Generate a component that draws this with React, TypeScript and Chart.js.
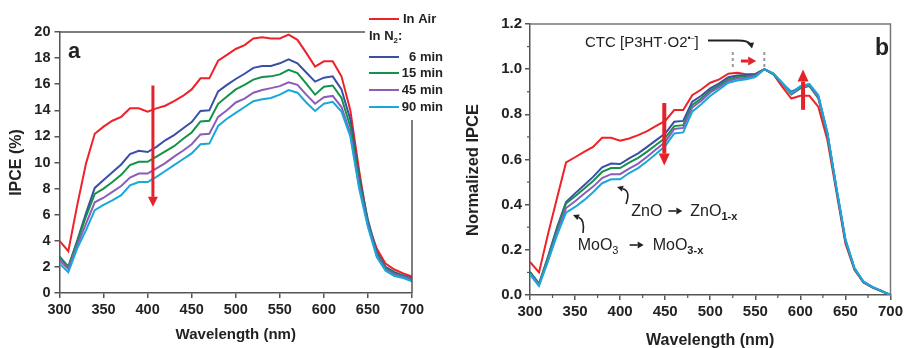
import { useEffect, useRef } from "react";
import { Chart, registerables } from "chart.js";
Chart.register(...registerables);

// ---------- data ----------
const wavelengths = [300, 310, 320, 330, 340, 350, 360, 370, 380, 390, 400, 410, 420, 430, 440, 450, 460, 470, 480, 490, 500, 510, 520, 530, 540, 550, 560, 570, 580, 590, 600, 610, 620, 630, 640, 650, 660, 670, 680, 690, 700];

const ipceAir = [4.0, 3.2, 6.7, 9.9, 12.2, 12.75, 13.2, 13.5, 14.15, 14.15, 13.9, 14.15, 14.35, 14.7, 15.1, 15.6, 16.45, 16.45, 17.8, 18.25, 18.7, 19.0, 19.5, 19.6, 19.5, 19.5, 19.8, 19.4, 18.4, 17.35, 17.75, 17.75, 16.6, 14.0, 9.4, 5.3, 3.4, 2.25, 1.8, 1.5, 1.25];
const ipce6 = [2.8, 2.0, 4.0, 6.1, 8.05, 8.65, 9.25, 9.85, 10.65, 10.9, 10.8, 11.2, 11.7, 12.1, 12.6, 13.1, 13.95, 14.0, 15.45, 15.95, 16.4, 16.8, 17.25, 17.4, 17.4, 17.6, 17.9, 17.6, 16.9, 16.2, 16.5, 16.6, 15.6, 13.3, 8.9, 5.6, 3.15, 2.0, 1.6, 1.35, 1.1];
const ipce15 = [2.75, 2.0, 3.9, 5.85, 7.6, 8.0, 8.5, 9.05, 9.8, 10.05, 10.05, 10.45, 10.85, 11.25, 11.8, 12.3, 13.15, 13.2, 14.5, 15.05, 15.6, 15.95, 16.35, 16.55, 16.6, 16.75, 17.1, 16.85, 16.05, 15.2, 15.8, 15.9, 14.95, 12.75, 8.65, 5.4, 3.0, 1.9, 1.5, 1.3, 1.05];
const ipce45 = [2.5, 1.85, 3.65, 5.3, 6.95, 7.3, 7.75, 8.2, 8.85, 9.15, 9.15, 9.55, 9.95, 10.45, 10.9, 11.4, 12.15, 12.2, 13.5, 14.0, 14.6, 14.9, 15.35, 15.55, 15.7, 15.85, 16.15, 15.95, 15.2, 14.5, 15.0, 15.1, 14.25, 12.25, 8.25, 5.2, 2.9, 1.8, 1.4, 1.25, 1.0];
const ipce90 = [2.25, 1.6, 3.4, 4.8, 6.35, 6.75, 7.1, 7.5, 8.25, 8.5, 8.5, 8.9, 9.35, 9.8, 10.25, 10.7, 11.4, 11.45, 12.8, 13.35, 13.8, 14.25, 14.7, 14.85, 14.95, 15.2, 15.55, 15.35, 14.6, 13.95, 14.5, 14.65, 13.9, 12.0, 8.0, 5.05, 2.75, 1.7, 1.3, 1.15, 0.9];

const normAir = [0.146, 0.10, 0.27, 0.43, 0.587, 0.61, 0.634, 0.656, 0.696, 0.696, 0.683, 0.693, 0.708, 0.726, 0.749, 0.771, 0.819, 0.819, 0.885, 0.91, 0.94, 0.955, 0.98, 0.984, 0.978, 0.978, 1.0, 0.978, 0.922, 0.87, 0.882, 0.882, 0.833, 0.686, 0.457, 0.228, 0.112, 0.055, 0.033, 0.016, 0.0];
const norm6 = [0.102, 0.05, 0.17, 0.30, 0.412, 0.45, 0.486, 0.523, 0.565, 0.582, 0.58, 0.605, 0.627, 0.656, 0.686, 0.715, 0.767, 0.771, 0.856, 0.882, 0.915, 0.937, 0.964, 0.972, 0.974, 0.978, 1.0, 0.978, 0.937, 0.9, 0.919, 0.93, 0.878, 0.715, 0.471, 0.242, 0.117, 0.058, 0.035, 0.018, 0.0];
const norm15 = [0.10, 0.05, 0.165, 0.29, 0.405, 0.437, 0.47, 0.505, 0.545, 0.562, 0.562, 0.586, 0.607, 0.635, 0.665, 0.695, 0.748, 0.752, 0.842, 0.87, 0.905, 0.928, 0.955, 0.965, 0.968, 0.973, 1.0, 0.978, 0.935, 0.888, 0.915, 0.925, 0.87, 0.71, 0.468, 0.24, 0.115, 0.057, 0.034, 0.017, 0.0];
const norm45 = [0.095, 0.045, 0.155, 0.275, 0.385, 0.415, 0.448, 0.48, 0.518, 0.535, 0.535, 0.56, 0.582, 0.612, 0.645, 0.677, 0.735, 0.74, 0.83, 0.86, 0.897, 0.92, 0.948, 0.958, 0.962, 0.97, 1.0, 0.98, 0.937, 0.89, 0.92, 0.93, 0.875, 0.715, 0.472, 0.243, 0.117, 0.058, 0.035, 0.018, 0.0];
const norm90 = [0.09, 0.04, 0.15, 0.265, 0.365, 0.39, 0.42, 0.455, 0.495, 0.512, 0.512, 0.54, 0.562, 0.592, 0.625, 0.66, 0.715, 0.72, 0.812, 0.845, 0.882, 0.91, 0.94, 0.95, 0.955, 0.965, 1.0, 0.982, 0.94, 0.895, 0.925, 0.935, 0.885, 0.72, 0.478, 0.248, 0.12, 0.06, 0.036, 0.018, 0.0];

const seriesLabels = ["In Air", "6 min", "15 min", "45 min", "90 min"];
const seriesColors = ["#ee2229", "#3a4fa6", "#14924a", "#8c5db8", "#18a8dc"];
const ipceSeries = [ipceAir, ipce6, ipce15, ipce45, ipce90];
const normSeries = [normAir, norm6, norm15, norm45, norm90];

const xTitle = "Wavelength (nm)";
const yTitleA = "IPCE (%)";
const yTitleB = "Normalized IPCE";

// ---------- helpers ----------
const SANS = "'Liberation Sans', Arial, sans-serif";
const NOTE = "'Liberation Sans Narrow', 'Liberation Sans', Arial, sans-serif";
const RED = "#e3222a";

function arrow(ctx: any, x1: number, y1: number, x2: number, y2: number, color: string, w: number, hl: number, hw: number) {
  const a = Math.atan2(y2 - y1, x2 - x1);
  const bx = x2 - Math.cos(a) * hl, by = y2 - Math.sin(a) * hl;
  ctx.save();
  ctx.strokeStyle = color; ctx.fillStyle = color; ctx.lineWidth = w; ctx.lineCap = "butt";
  ctx.beginPath(); ctx.moveTo(x1, y1); ctx.lineTo(bx, by); ctx.stroke();
  ctx.beginPath(); ctx.moveTo(x2, y2);
  ctx.lineTo(bx + Math.sin(a) * hw / 2, by - Math.cos(a) * hw / 2);
  ctx.lineTo(bx - Math.sin(a) * hw / 2, by + Math.cos(a) * hw / 2);
  ctx.closePath(); ctx.fill();
  ctx.restore();
}

function curvedArrow(ctx: any, x0: number, y0: number, cx: number, cy: number, x1: number, y1: number, color: string) {
  const a = Math.atan2(y1 - cy, x1 - cx);
  const hl = 6, hw = 6;
  const bx = x1 - Math.cos(a) * hl, by = y1 - Math.sin(a) * hl;
  ctx.save();
  ctx.strokeStyle = color; ctx.fillStyle = color; ctx.lineWidth = 1.6;
  ctx.beginPath(); ctx.moveTo(x0, y0); ctx.quadraticCurveTo(cx, cy, bx, by); ctx.stroke();
  ctx.beginPath(); ctx.moveTo(x1, y1);
  ctx.lineTo(bx + Math.sin(a) * hw / 2, by - Math.cos(a) * hw / 2);
  ctx.lineTo(bx - Math.sin(a) * hw / 2, by + Math.cos(a) * hw / 2);
  ctx.closePath(); ctx.fill();
  ctx.restore();
}

type Run = { t: string; size: number; dy?: number; weight?: string; family?: string };
function runs(ctx: any, x: number, y: number, parts: Run[], color = "#222") {
  ctx.save();
  ctx.fillStyle = color; ctx.textBaseline = "alphabetic"; ctx.textAlign = "left";
  let cx = x;
  for (const p of parts) {
    ctx.font = `${p.weight || "normal"} ${p.size}px ${p.family || NOTE}`;
    ctx.fillText(p.t, cx, y + (p.dy || 0));
    cx += ctx.measureText(p.t).width;
  }
  ctx.restore();
}

function rotatedText(ctx: any, text: string, x: number, y: number, font: string) {
  ctx.save();
  ctx.translate(x, y); ctx.rotate(-Math.PI / 2);
  ctx.font = font; ctx.fillStyle = "#222"; ctx.textAlign = "center"; ctx.textBaseline = "middle";
  ctx.fillText(text, 0, 0);
  ctx.restore();
}

function centerText(ctx: any, text: string, x: number, y: number, font: string) {
  ctx.save();
  ctx.font = font; ctx.fillStyle = "#222"; ctx.textAlign = "center"; ctx.textBaseline = "middle";
  ctx.fillText(text, x, y);
  ctx.restore();
}

// ---------- panel a decorations ----------
const decoA = {
  id: "decoA",
  afterDraw(chart: any) {
    const { ctx, chartArea: ca, scales } = chart;
    const xs = scales.x, ys = scales.y;
    ctx.save();
    // partial frame
    ctx.strokeStyle = "#555"; ctx.lineWidth = 1.5;
    ctx.beginPath(); ctx.moveTo(ca.left, ca.top); ctx.lineTo(365, ca.top); ctx.stroke();
    ctx.beginPath(); ctx.moveTo(ca.right, 120); ctx.lineTo(ca.right, ca.bottom); ctx.stroke();
    ctx.restore();
    // panel label
    runs(ctx, 68, 58, [{ t: "a", size: 22, weight: "bold", family: SANS }]);
    // legend
    const lx0 = 369, lx1 = 399, rx = 443;
    const rowsY = [19, 57, 73, 90, 107];
    for (let i = 0; i < seriesLabels.length; i++) {
      ctx.save();
      ctx.strokeStyle = seriesColors[i]; ctx.lineWidth = 2;
      ctx.beginPath(); ctx.moveTo(lx0, rowsY[i]); ctx.lineTo(lx1, rowsY[i]); ctx.stroke();
      ctx.font = `bold 13px ${SANS}`; ctx.fillStyle = "#222"; ctx.textBaseline = "middle";
      if (i === 0) { ctx.textAlign = "left"; ctx.fillText(seriesLabels[i], 403, rowsY[i]); }
      else { ctx.textAlign = "right"; ctx.fillText(seriesLabels[i], rx, rowsY[i]); }
      ctx.restore();
    }
    runs(ctx, 369, 40, [
      { t: "In N", size: 13, weight: "bold", family: SANS },
      { t: "2", size: 8, dy: 3, weight: "bold", family: SANS },
      { t: ":", size: 13, weight: "bold", family: SANS },
    ]);
    // red arrow
    const ax = xs.getPixelForValue(406);
    arrow(ctx, ax, ys.getPixelForValue(15.9), ax, ys.getPixelForValue(6.6), RED, 3, 10, 10);
    // axis titles
    rotatedText(ctx, yTitleA, 17, (ca.top + ca.bottom) / 2, `bold 16px ${SANS}`);
    centerText(ctx, xTitle, (ca.left + ca.right) / 2, 335, `bold 15px ${SANS}`);
  },
};

// ---------- panel b decorations ----------
const decoB = {
  id: "decoB",
  afterDraw(chart: any) {
    const { ctx, chartArea: ca, scales } = chart;
    const xs = scales.x, ys = scales.y;
    const X = (v: number) => xs.getPixelForValue(v);
    const Y = (v: number) => ys.getPixelForValue(v);
    ctx.save();
    ctx.strokeStyle = "#777"; ctx.lineWidth = 1.5;
    ctx.beginPath(); ctx.moveTo(ca.left, ca.top); ctx.lineTo(ca.right, ca.top); ctx.lineTo(ca.right, ca.bottom); ctx.stroke();
    // minor ticks
    ctx.strokeStyle = "#555"; ctx.lineWidth = 1.2;
    for (let v = 325; v < 700; v += 50) {
      const px = X(v);
      ctx.beginPath(); ctx.moveTo(px, ca.bottom); ctx.lineTo(px, ca.bottom + 3); ctx.stroke();
    }
    for (let k = 1; k < 12; k += 2) {
      const py = Y(k / 10);
      ctx.beginPath(); ctx.moveTo(ca.left - 3, py); ctx.lineTo(ca.left, py); ctx.stroke();
    }
    // dashed grey markers
    ctx.strokeStyle = "#999"; ctx.lineWidth = 2; ctx.setLineDash([3, 3]);
    for (const v of [525, 560]) {
      ctx.beginPath(); ctx.moveTo(X(v), Y(1.076)); ctx.lineTo(X(v), Y(1.008)); ctx.stroke();
    }
    ctx.setLineDash([]);
    ctx.restore();
    // panel label
    runs(ctx, 425, 55, [{ t: "b", size: 23, weight: "bold", family: SANS }]);
    // CTC label
    runs(ctx, 135, 47, [
      { t: "CTC [P3HT\u00B7O2", size: 15 },
      { t: "\u2022", size: 9, dy: -6 },
      { t: "\u2013", size: 7, dy: -7 },
      { t: "]", size: 15 },
    ]);
    // black curved arrow from CTC label
    ctx.save();
    ctx.strokeStyle = "#222"; ctx.lineWidth = 1.8;
    ctx.beginPath(); ctx.moveTo(258, 40.5); ctx.lineTo(288, 40.5);
    ctx.quadraticCurveTo(298, 40.5, 300, 44); ctx.stroke();
    ctx.fillStyle = "#222";
    ctx.beginPath(); ctx.moveTo(302, 48.5); ctx.lineTo(297, 43); ctx.lineTo(304, 42.5); ctx.closePath(); ctx.fill();
    ctx.restore();
    // small red right arrow
    arrow(ctx, X(534), Y(1.036), X(551), Y(1.036), RED, 3, 8, 9);
    // red arrows
    arrow(ctx, X(449), Y(0.85), X(449), Y(0.573), RED, 4, 12, 11);
    arrow(ctx, X(603), Y(0.82), X(603), Y(0.998), RED, 4, 12, 11);
    // ZnO annotation
    const zx = X(412.4), zy = 216;
    runs(ctx, zx, zy, [{ t: "ZnO", size: 16 }]);
    arrow(ctx, zx + 37, zy - 5, zx + 51, zy - 5, "#222", 1.6, 6, 7);
    runs(ctx, zx + 59, zy, [{ t: "ZnO", size: 16 }, { t: "1-x", size: 11, dy: 4, weight: "bold" }]);
    curvedArrow(ctx, 176, 204, 181, 191, 167, 187, "#222");
    // MoO3 annotation
    const mx = X(352.9), my = 250;
    runs(ctx, mx, my, [{ t: "MoO", size: 16 }, { t: "3", size: 11, dy: 4 }]);
    arrow(ctx, mx + 52, my - 5, mx + 66, my - 5, "#222", 1.6, 6, 7);
    runs(ctx, mx + 75, my, [{ t: "MoO", size: 16 }, { t: "3-x", size: 11, dy: 4, weight: "bold" }]);
    curvedArrow(ctx, 133, 233, 135, 220, 123, 215, "#222");
    // axis titles
    rotatedText(ctx, yTitleB, 23, 170, `bold 16.5px ${SANS}`);
    centerText(ctx, xTitle, (ca.left + ca.right) / 2, 341, `bold 16px ${SANS}`);
  },
};

function makeDatasets(series: number[][]) {
  return series.map((vals, i) => ({
    label: seriesLabels[i],
    data: wavelengths.map((w, j) => ({ x: w, y: vals[j] })),
    borderColor: seriesColors[i],
    backgroundColor: seriesColors[i],
    borderWidth: 2,
    pointRadius: 0,
    tension: 0,
    order: 5 - i,
  }));
}

const tickFont = { family: SANS, size: 14.5, weight: "bold" as const };

function axisCommon(tickLen: number) {
  return {
    grid: { drawOnChartArea: false, drawTicks: true, tickLength: tickLen, color: "#555", lineWidth: 1.5 },
    border: { display: true, color: "#555", width: 1.5 },
  };
}

export default function App() {
  const refA = useRef<HTMLCanvasElement>(null);
  const refB = useRef<HTMLCanvasElement>(null);

  useEffect(() => {
    const chartA = new Chart(refA.current as HTMLCanvasElement, {
      type: "line",
      data: { datasets: makeDatasets(ipceSeries) as any },
      options: {
        responsive: false,
        animation: false,
        devicePixelRatio: 1,
        layout: { padding: { left: 0, top: 32, right: 38, bottom: 0 } },
        plugins: { legend: { display: false }, tooltip: { enabled: false } },
        scales: {
          x: {
            type: "linear", min: 300, max: 700,
            afterFit: (s: any) => { s.height = 55; },
            ticks: { stepSize: 50, font: tickFont, color: "#222", padding: 3, maxRotation: 0, autoSkip: false },
            ...axisCommon(5),
          },
          y: {
            type: "linear", min: 0, max: 20,
            afterFit: (s: any) => { s.width = 59.5; },
            ticks: { stepSize: 2, font: tickFont, color: "#222", padding: 4, autoSkip: false },
            ...axisCommon(5),
          },
        },
      } as any,
      plugins: [decoA],
    });

    const chartB = new Chart(refB.current as HTMLCanvasElement, {
      type: "line",
      data: { datasets: makeDatasets(normSeries) as any },
      options: {
        responsive: false,
        animation: false,
        devicePixelRatio: 1,
        layout: { padding: { left: 0, top: 24, right: 13, bottom: 0 } },
        plugins: { legend: { display: false }, tooltip: { enabled: false } },
        scales: {
          x: {
            type: "linear", min: 300, max: 700,
            afterFit: (s: any) => { s.height = 53; },
            ticks: { stepSize: 50, font: { ...tickFont, size: 15 }, color: "#222", padding: 3, maxRotation: 0, autoSkip: false },
            ...axisCommon(5),
          },
          y: {
            type: "linear", min: 0, max: 1.2,
            afterFit: (s: any) => { s.width = 80; },
            ticks: { stepSize: 0.2, font: { ...tickFont, size: 15 }, color: "#222", padding: 3, autoSkip: false, callback: (v: any) => Number(v).toFixed(1) },
            ...axisCommon(5),
          },
        },
      } as any,
      plugins: [decoB],
    });

    return () => { chartA.destroy(); chartB.destroy(); };
  }, []);

  return (
    <div style={{ position: "fixed", left: 0, top: 0, width: 906, height: 348, background: "#fff", overflow: "hidden" }}>
      <canvas ref={refA} width={450} height={348} style={{ position: "absolute", left: 0, top: 0, width: 450, height: 348 }} />
      <canvas ref={refB} width={456} height={348} style={{ position: "absolute", left: 450, top: 0, width: 456, height: 348 }} />
    </div>
  );
}
